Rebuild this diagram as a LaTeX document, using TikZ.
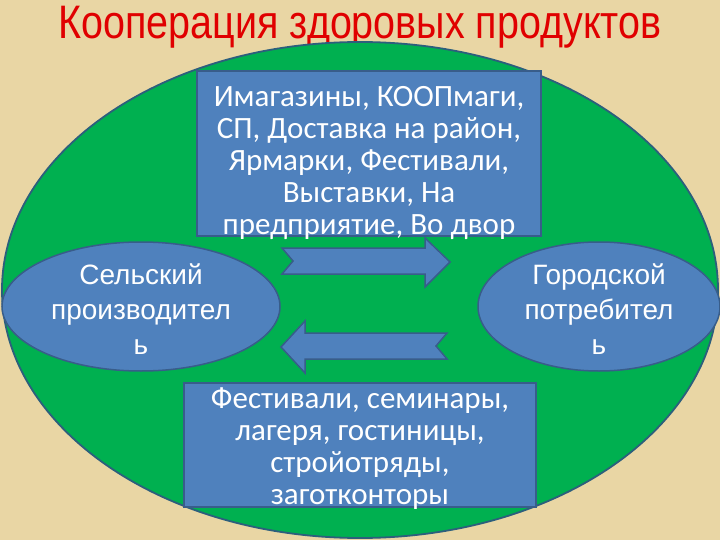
\documentclass[tikz,border=0pt]{standalone}
\usepackage{fontspec}
\setmainfont{Liberation Sans}
\newfontfamily\titlefont[FakeStretch=0.84]{Liberation Sans}
\newfontfamily\ellfont{Liberation Sans}
\newfontfamily\rectfont{Carlito}
\usetikzlibrary{shapes.geometric}
\definecolor{parch}{HTML}{E9D6A4}
\definecolor{bigg}{HTML}{00B050}
\definecolor{bigline}{HTML}{2C5F7C}
\definecolor{boxblue}{HTML}{4F81BD}
\definecolor{boxline}{HTML}{385D8A}
\definecolor{titlered}{HTML}{E00000}
\tikzset{
  bigoval/.style={ellipse, fill=bigg, draw=bigline, line width=1.8pt, inner sep=0pt},
  bluebox/.style={rectangle, fill=boxblue, draw=boxline, line width=1.5pt, inner sep=0pt},
  blueoval/.style={ellipse, fill=boxblue, draw=boxline, line width=1.5pt, inner sep=0pt},
  blockarrow/.style={fill=boxblue, draw=boxline, line width=1.5pt, line join=miter},
  boxtext/.style={text=white, align=center, font=\rectfont\fontsize{31}{32}\selectfont},
  ovaltext/.style={text=white, align=center, font=\ellfont\fontsize{28}{35}\selectfont},
  titletext/.style={text=titlered, inner sep=0pt, font=\titlefont\fontsize{47}{50}\selectfont}
}
\begin{document}
\begin{tikzpicture}[x=1pt, y=-1pt]
\fill[parch] (0,0) rectangle (720,540);
\useasboundingbox (0,0) rectangle (720,540);
\node[titletext, anchor=base] (title) at (360,39) {Кооперация здоровых продуктов};
\node[bigoval, minimum width=716pt, minimum height=496pt] (big) at (360,290) {};
\node[bluebox, minimum width=344pt, minimum height=165pt] (top) at (369,153.5) {};
\node[boxtext] (toptext) at (369,163) {Имагазины, КООПмаги,\\СП, Доставка на район,\\Ярмарки, Фестивали,\\Выставки, На\\предприятие, Во двор};
\node[bluebox, minimum width=352pt, minimum height=124pt] (bot) at (360,445) {};
\node[boxtext] (bottext) at (360,449) {Фестивали, семинары,\\лагеря, гостиницы,\\стройотряды,\\заготконторы};
\node[blueoval, minimum width=278pt, minimum height=129pt] (left) at (141,306.5) {};
\node[ovaltext] (lefttext) at (141,309) {Сельский\\производител\\ь};
\node[blueoval, minimum width=242pt, minimum height=129pt] (right) at (599,306.5) {};
\node[ovaltext] (righttext) at (599,309) {Городской\\потребител\\ь};
\draw[blockarrow] (282,248) -- (425,248) -- (425,238) -- (450,262) -- (425,287) -- (425,274) -- (282,274) -- (293,261) -- cycle;
\draw[blockarrow] (281,347) -- (305,321) -- (305,333) -- (447,333) -- (436,346) -- (447,359) -- (305,359) -- (305,373) -- cycle;
\end{tikzpicture}
\end{document}
